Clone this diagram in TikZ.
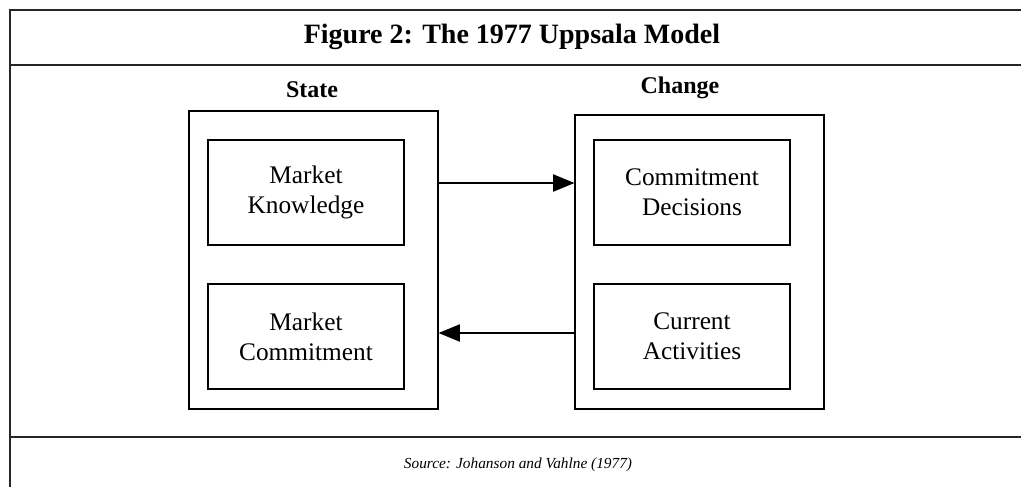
\documentclass[tikz,border=0pt]{standalone}
\usepackage{fontspec}
\setmainfont{Liberation Serif}
\usetikzlibrary{arrows.meta}
\begin{document}
\begin{tikzpicture}[x=0.75pt,y=-0.75pt,
  frame/.style={line width=1.2pt,black!85},
  outerbox/.style={draw,line width=0.9pt,minimum width={249*0.75pt},inner sep=0pt},
  innerbox/.style={draw,line width=0.9pt,minimum width={196*0.75pt},minimum height={105*0.75pt},
    align=center,font=\fontsize{19}{22.5}\selectfont,inner sep=0pt},
  head/.style={font=\bfseries\fontsize{18}{21}\selectfont},
  arr/.style={line width=0.8pt,-{Triangle[length=16pt,width=13pt]}}]
\useasboundingbox (0,0) rectangle (1021,487);
% frame
\coordinate (tl) at (10,10);
\coordinate (tr) at (1021,10);
\coordinate (bl) at (10,487);
\coordinate (s1l) at (10,65);
\coordinate (s1r) at (1021,65);
\coordinate (s2l) at (10,437);
\coordinate (s2r) at (1021,437);
\draw[frame] (tr) -- (tl) -- (bl);
\draw[frame] (s1l) -- (s1r);
\draw[frame] (s2l) -- (s2r);
\node[font=\bfseries\fontsize{21}{25}\selectfont] (title) at (512,37) {Figure 2: The 1977 Uppsala Model};
% headings
\node[head] (state) at (312,90) {State};
\node[head] (change) at (680,88) {Change};
% outer boxes
\node[outerbox,minimum height={298*0.75pt}] (stateBox) at (313.5,260) {};
\node[outerbox,minimum height={294*0.75pt}] (changeBox) at (699.5,262) {};
% inner boxes
\node[innerbox] (mk) at (306,192.5) {Market\\Knowledge};
\node[innerbox] (mc) at (306,336.5) {Market\\Commitment};
\node[innerbox] (cd) at (692,192.5) {Commitment\\Decisions};
\node[innerbox] (ca) at (692,336.5) {Current\\Activities};
% arrows
\draw[arr] (stateBox.east |- 0,183) -- (changeBox.west |- 0,183);
\draw[arr] (changeBox.west |- 0,333) -- (stateBox.east |- 0,333);
% source
\node[font=\itshape\fontsize{11.5}{14}\selectfont] (src) at (518,465) {Source: Johanson and Vahlne (1977)};
\end{tikzpicture}
\end{document}
